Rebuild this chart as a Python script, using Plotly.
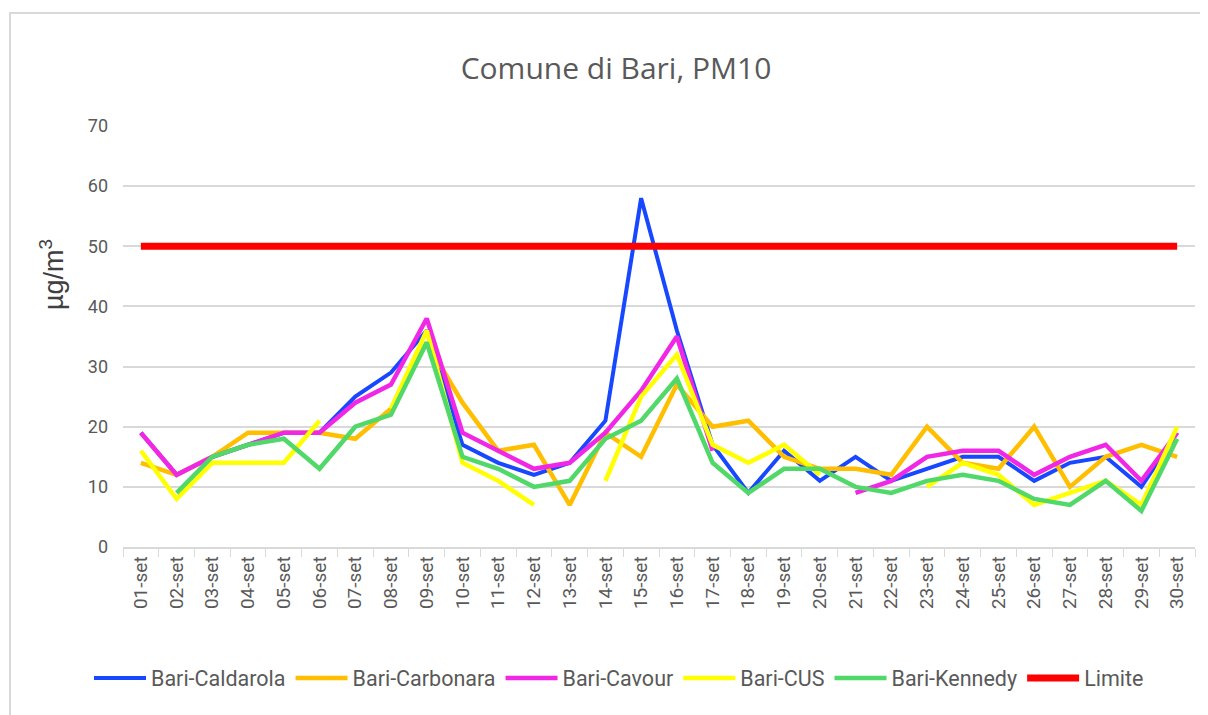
import plotly.graph_objects as go

days = [f"{d:02d}-set" for d in range(1, 31)]

caldarola = [19, 12, 15, 17, 19, 19, 25, 29, 36, 17, 14, 12, 14, 21, 58, 36, 17, 9, 16, 11,
             15, 11, 13, 15, 15, 11, 14, 15, 10, 19]
carbonara = [14, 12, 15, 19, 19, 19, 18, 23, 34, 24, 16, 17, 7, 19, 15, 27, 20, 21, 15, 13,
             13, 12, 20, 14, 13, 20, 10, 15, 17, 15]
cavour = [19, 12, 15, 17, 19, 19, 24, 27, 38, 19, 16, 13, 14, 19, 26, 35, 16, None, None, None,
          9, 11, 15, 16, 16, 12, 15, 17, 11, 19]
cus = [16, 8, 14, 14, 14, 21, None, 23, 36, 14, 11, 7, None, 11, 25, 32, 17, 14, 17, 12,
       None, None, 10, 14, 12, 7, 9, 11, 7, 20]
kennedy = [None, 9, 15, 17, 18, 13, 20, 22, 34, 15, 13, 10, 11, 18, 21, 28, 14, 9, 13, 13,
           10, 9, 11, 12, 11, 8, 7, 11, 6, 18]
limite = [50] * 30

series = [
    ("Bari-Caldarola", caldarola, "#1747FF", 4),
    ("Bari-Carbonara", carbonara, "#FFBF00", 4.5),
    ("Bari-Cavour", cavour, "#F028E6", 4.5),
    ("Bari-CUS", cus, "#FFFF00", 4.5),
    ("Bari-Kennedy", kennedy, "#50D868", 4.5),
    ("Limite", limite, "#FF0000", 7),
]

fig = go.Figure()
for name, vals, color, w in series:
    fig.add_trace(go.Scatter(x=days, y=vals, name=name, mode="lines",
                             line=dict(color=color, width=w), connectgaps=False))

# page body has an 8px margin: figure coords = screen coords - 8
W, H = 1200, 707
L, R, T, B = 115, 13, 118, 168
pw, ph = W - L - R, H - T - B

def px_x(x):
    return (x - L) / pw

def px_y(y):
    return (H - B - y) / ph

grey = "#595959"
tickfont = dict(family="Roboto, sans-serif", size=18, color=grey)
xtickfont = dict(family="Roboto, sans-serif", size=19, color=grey)

fig.update_layout(
    width=W, height=H,
    margin=dict(l=L, r=R, t=T, b=B),
    paper_bgcolor="white", plot_bgcolor="white",
    title=dict(text="Comune di Bari, PM10", x=608 / W, xref="container", xanchor="center",
               y=1 - 60 / H, yref="container", yanchor="middle",
               font=dict(family="Open Sans, sans-serif", size=30, color=grey)),
    showlegend=True,
    legend=dict(orientation="h", x=px_x(611), xanchor="center", y=px_y(670), yanchor="middle",
                font=dict(family="Roboto, sans-serif", size=21.5, color=grey),
                itemwidth=52, traceorder="normal"),
    xaxis=dict(type="category", range=[-0.5, 29.5], showgrid=False, showline=True,
               linecolor="#d9d9d9", linewidth=1.5,
               ticks="outside", ticklen=8, tickcolor="#d9d9d9", tickson="boundaries",
               tickangle=-90, tickfont=xtickfont, fixedrange=True),
    yaxis=dict(range=[0, 70], dtick=10, showgrid=True, gridcolor="#d9d9d9", gridwidth=1.5,
               zeroline=False, showline=False, tickfont=tickfont, ticklabelstandoff=14),
    shapes=[dict(type="rect", xref="paper", yref="paper",
                 x0=px_x(2), x1=px_x(1230), y0=px_y(740), y1=px_y(5),
                 line=dict(color="#d9d9d9", width=2), fillcolor="rgba(0,0,0,0)", layer="below")],
    annotations=[dict(text="µg/m<sup>3</sup>", xref="paper", yref="paper",
                      x=px_x(44), y=px_y(267), textangle=-90, showarrow=False,
                      xanchor="center", yanchor="middle",
                      font=dict(family="Liberation Sans, sans-serif", size=27, color="#404040"))],
)

fig.write_html("out.html")
